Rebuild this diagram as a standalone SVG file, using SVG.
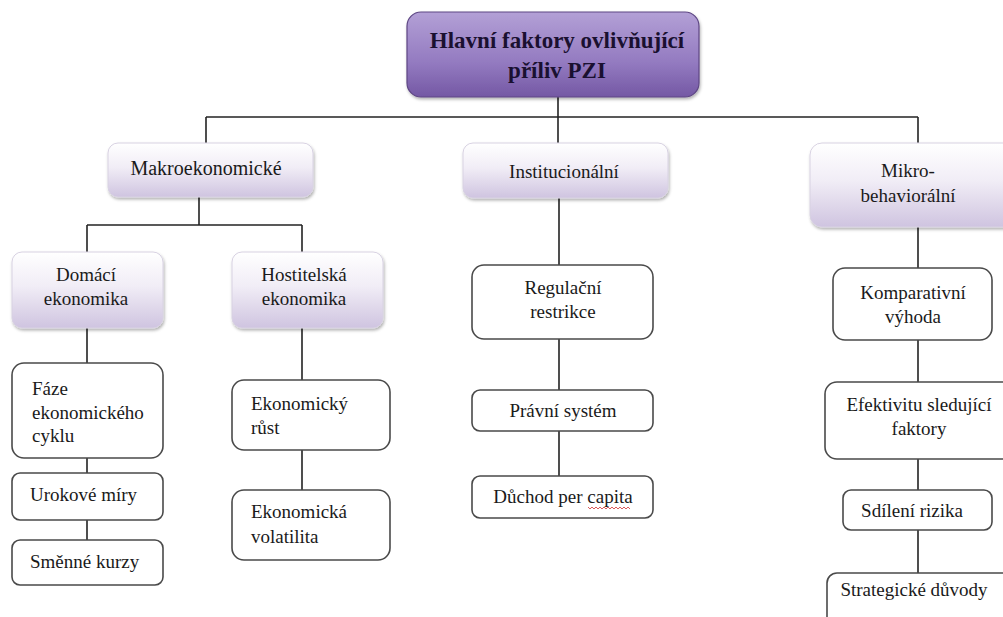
<svg xmlns="http://www.w3.org/2000/svg" width="1003" height="617" viewBox="0 0 1003 617" font-family="Liberation Serif, Times New Roman, serif">
<style>
.bg{fill:#ffffff}
.conn{stroke:#222;stroke-width:1.6;fill:none}
.white{fill:#ffffff;stroke:#4a4a4a;stroke-width:1.6}
.lav{fill:url(#lavGrad);stroke:#d8d2e2;stroke-width:1}
.top{fill:url(#topGrad);stroke:#5e4784;stroke-width:1.2}
.t{font-family:'Liberation Serif','Times New Roman',serif;font-size:19px;fill:#1a1a1a}
.c{text-anchor:middle}
.l{text-anchor:start}
.title{font-weight:bold;font-size:23px;fill:#1a1030}
.lv{font-size:20px}
</style>
<defs>
<linearGradient id="topGrad" x1="0" y1="0" x2="0" y2="1">
<stop offset="0" stop-color="#b3a0d6"/>
<stop offset="0.6" stop-color="#937ac0"/>
<stop offset="1" stop-color="#7458a4"/>
</linearGradient>
<linearGradient id="lavGrad" x1="0" y1="0" x2="0" y2="1">
<stop offset="0" stop-color="#ffffff"/>
<stop offset="0.45" stop-color="#f1edf6"/>
<stop offset="1" stop-color="#cfc4e0"/>
</linearGradient>
<filter id="sh" x="-10%" y="-10%" width="120%" height="130%">
<feDropShadow dx="1" dy="2" stdDeviation="1.5" flood-color="#000" flood-opacity="0.3"/>
</filter>
</defs>
<rect class="bg" x="0" y="0" width="1003" height="617"/>

<g id="connectors">
<line class="conn" x1="558" y1="97" x2="558" y2="117"/>
<line class="conn" x1="206" y1="117" x2="918" y2="117"/>
<line class="conn" x1="206" y1="117" x2="206" y2="143"/>
<line class="conn" x1="558" y1="117" x2="558" y2="143"/>
<line class="conn" x1="918" y1="117" x2="918" y2="143"/>
<line class="conn" x1="199" y1="197" x2="199" y2="225"/>
<line class="conn" x1="87" y1="225" x2="302" y2="225"/>
<line class="conn" x1="87" y1="225" x2="87" y2="252"/>
<line class="conn" x1="302" y1="225" x2="302" y2="252"/>
<line class="conn" x1="87" y1="328" x2="87" y2="363"/>
<line class="conn" x1="87" y1="458" x2="87" y2="473"/>
<line class="conn" x1="87" y1="520" x2="87" y2="540"/>
<line class="conn" x1="302" y1="328" x2="302" y2="380"/>
<line class="conn" x1="302" y1="450" x2="302" y2="490"/>
<line class="conn" x1="559" y1="198" x2="559" y2="265"/>
<line class="conn" x1="559" y1="339" x2="559" y2="390"/>
<line class="conn" x1="559" y1="431" x2="559" y2="476"/>
<line class="conn" x1="918" y1="227" x2="918" y2="268"/>
<line class="conn" x1="918" y1="340" x2="918" y2="382"/>
<line class="conn" x1="918" y1="459" x2="918" y2="490"/>
<line class="conn" x1="918" y1="530" x2="918" y2="573"/>
</g>

<g id="root">
<rect class="top" x="407" y="12" width="292" height="85" rx="14" filter="url(#sh)"/>
<text class="t c title" x="557" y="48">Hlavní faktory ovlivňující</text>
<text class="t c title" x="557" y="78">příliv PZI</text>
</g>

<g id="makro">
<rect class="lav" x="108" y="143" width="205" height="54" rx="10" filter="url(#sh)"/>
<text class="t c lv" x="206" y="175">Makroekonomické</text>
</g>

<g id="instit">
<rect class="lav" x="463" y="143" width="205" height="55" rx="10" filter="url(#sh)"/>
<text class="t c" x="564" y="178">Institucionální</text>
</g>

<g id="mikro">
<rect class="lav" x="810" y="143" width="205" height="84" rx="12" filter="url(#sh)"/>
<text class="t c" x="908" y="177">Mikro-</text>
<text class="t c" x="908" y="202">behaviorální</text>
</g>

<g id="domaci">
<rect class="lav" x="12" y="252" width="151" height="76" rx="10" filter="url(#sh)"/>
<text class="t c" x="86" y="281">Domácí</text>
<text class="t c" x="86" y="305">ekonomika</text>
</g>

<g id="hostitelska">
<rect class="lav" x="232" y="252" width="151" height="76" rx="10" filter="url(#sh)"/>
<text class="t c" x="304" y="281">Hostitelská</text>
<text class="t c" x="304" y="305">ekonomika</text>
</g>

<g id="faze">
<rect class="white" x="12" y="363" width="151" height="95" rx="12"/>
<text class="t l" x="32" y="395">Fáze</text>
<text class="t l" x="32" y="419">ekonomického</text>
<text class="t l" x="32" y="442">cyklu</text>
</g>

<g id="urokove">
<rect class="white" x="12" y="473" width="151" height="47" rx="8"/>
<text class="t l" x="30" y="501">Urokové míry</text>
</g>

<g id="smenne">
<rect class="white" x="12" y="540" width="151" height="45" rx="8"/>
<text class="t l" x="30" y="568">Směnné kurzy</text>
</g>

<g id="ekrust">
<rect class="white" x="232" y="380" width="158" height="70" rx="12"/>
<text class="t l" x="251" y="410">Ekonomický</text>
<text class="t l" x="251" y="434">růst</text>
</g>

<g id="ekvol">
<rect class="white" x="232" y="490" width="158" height="70" rx="12"/>
<text class="t l" x="251" y="518">Ekonomická</text>
<text class="t l" x="251" y="543">volatilita</text>
</g>

<g id="regulacni">
<rect class="white" x="472" y="265" width="181" height="74" rx="12"/>
<text class="t c" x="563" y="294">Regulační</text>
<text class="t c" x="563" y="318">restrikce</text>
</g>

<g id="pravni">
<rect class="white" x="472" y="390" width="181" height="41" rx="8"/>
<text class="t c" x="563" y="417">Právní systém</text>
</g>

<g id="duchod">
<rect class="white" x="472" y="476" width="181" height="42" rx="8"/>
<text class="t c" x="563" y="503">Důchod per capita</text>
<path d="M588 507 l2 2 l2 -2 l2 2 l2 -2 l2 2 l2 -2 l2 2 l2 -2 l2 2 l2 -2 l2 2 l2 -2 l2 2 l2 -2 l2 2 l2 -2 l2 2 l2 -2 l2 2 l2 -2 l2 2" fill="none" stroke="#d03030" stroke-width="0.8"/>
</g>

<g id="komparativni">
<rect class="white" x="833" y="268" width="159" height="72" rx="12"/>
<text class="t c" x="913" y="299">Komparativní</text>
<text class="t c" x="913" y="323">výhoda</text>
</g>

<g id="efektivitu">
<rect class="white" x="825" y="382" width="200" height="77" rx="12"/>
<text class="t c" x="919" y="411">Efektivitu sledující</text>
<text class="t c" x="919" y="435">faktory</text>
</g>

<g id="sdileni">
<rect class="white" x="843" y="490" width="149" height="40" rx="8"/>
<text class="t c" x="912" y="517">Sdílení rizika</text>
</g>

<g id="strategicke">
<rect class="white" x="827" y="573" width="200" height="60" rx="10"/>
<text class="t c" x="914" y="596">Strategické důvody</text>
</g>
</svg>
